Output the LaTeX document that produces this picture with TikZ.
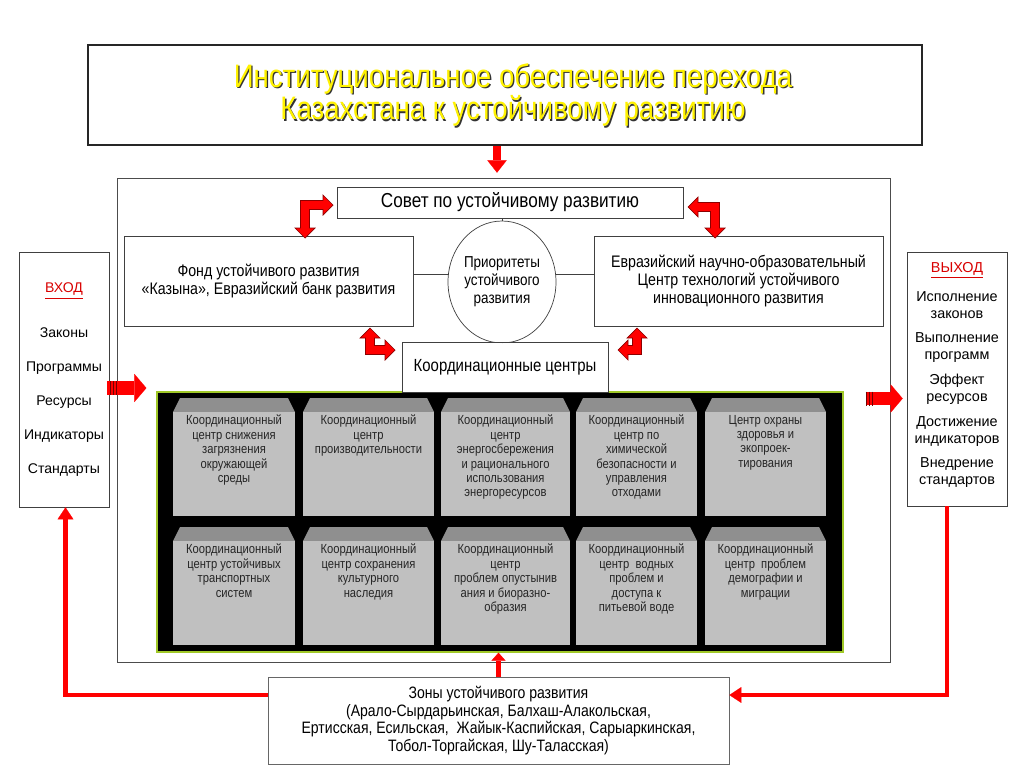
\documentclass[tikz,border=0pt]{standalone}
\usepackage{fontspec}
\setmainfont{Liberation Sans}
\newfontfamily\narrowsans{Liberation Sans}[FakeStretch=0.85]
\usetikzlibrary{positioning,shapes.geometric,arrows.meta,calc}

\definecolor{panelrim}{RGB}{160,200,40}
\definecolor{tiletopgray}{RGB}{143,143,143}
\definecolor{tilegray}{RGB}{192,192,192}

\newcommand{\px}{0.02cm}
% red double-headed bent arrow: corner, x sign, y sign, x arm, y arm
\newcommand{\bentarrow}[5]{%
  \begin{scope}[shift={#1},xscale=#2,yscale=#3]
    \filldraw[redblock] (-4.5,-4.5) -- ({#4-10},-4.5) -- ({#4-10},-10) -- (#4,0)
      -- ({#4-10},10) -- ({#4-10},4.5) -- (4.5,4.5) -- (4.5,{#5-10}) -- (10,{#5-10})
      -- (0,#5) -- (-10,{#5-10}) -- (-4.5,{#5-10}) -- cycle;
  \end{scope}}

\begin{document}
\begin{tikzpicture}[x=0.02cm,y=-0.02cm,
  box/.style={draw=black!75,fill=white,inner sep=2pt,align=center,
    font=\narrowsans\fontsize{9.5}{10.4}\selectfont},
  sidetext/.style={align=center,inner sep=0pt,font=\fontsize{8}{19.3}\selectfont},
  outtext/.style={align=center,inner sep=0pt,font=\fontsize{8.2}{9.6}\selectfont},
  tiletext/.style={anchor=north,align=center,inner sep=1pt,text=black!85,
    font=\narrowsans\fontsize{7.5}{8.2}\selectfont},
  tiletop/.style={fill=tiletopgray},
  tilebody/.style={fill=tilegray},
  redblock/.style={fill=red,draw=red!55!black,line width=0.4pt},
  link/.style={draw=black!75,line width=0.5pt},
  redline/.style={draw=red,line width=2.3pt,
    -{Triangle[width=9pt,length=6.8pt,line width=0.1pt]}},
  fatarrow/.style={draw=red,line width=5pt,
    -{Triangle[width=11pt,length=7pt,line width=0.1pt]}},
  midarrow/.style={draw=red,line width=3.4pt,
    -{Triangle[width=8pt,length=4.5pt,line width=0.1pt]}},
  widearrow/.style={draw=red,line width=7.9pt,
    -{Triangle[width=16pt,length=6.8pt,line width=0.1pt]}},
  stripe/.style={draw=red!45!black,line width=0.7pt}]

  \fill[white] (0,0) rectangle (1024,768);
  \useasboundingbox (0,0) rectangle (1024,768);

  % title
  \node[draw=black!85,line width=1.3pt,fill=white,minimum width=834*\px,
    minimum height=100*\px] (title) at (505,95) {};
  \node[align=center,text=black!80,font=\narrowsans\fontsize{18.5}{18.5}\selectfont]
    (titleshade) at (514.3,96.3) {Институциональное обеспечение перехода\\Казахстана к устойчивому развитию};
  \node[align=center,text=yellow,font=\narrowsans\fontsize{18.5}{18.5}\selectfont]
    (titletext) at (513,95) {Институциональное обеспечение перехода\\Казахстана к устойчивому развитию};

  % main frame and black panel
  \node[draw=black!70,minimum width=773*\px,minimum height=484*\px,inner sep=0pt]
    (frame) at (503.5,420) {};
  \node[fill=black,draw=panelrim,line width=0.8pt,minimum width=686*\px,
    minimum height=260*\px,inner sep=0pt] (panel) at (500,522) {};

  \node[box,minimum width=346*\px,minimum height=31*\px,
    font=\narrowsans\fontsize{11.5}{12}\selectfont] (sovet) at (510,202.5) {Совет по устойчивому развитию};
  \node[box,minimum width=289*\px,minimum height=90*\px] (fond) at (268.5,281)
    {Фонд устойчивого развития\\«Казына», Евразийский банк развития};
  \node[box,minimum width=289*\px,minimum height=90*\px] (evraz) at (738.5,281)
    {Евразийский научно-образовательный\\Центр технологий устойчивого\\инновационного развития};
  \node[box,ellipse,minimum width=108*\px,minimum height=122*\px,inner sep=0pt,
    font=\narrowsans\fontsize{9}{10.2}\selectfont] (prior) at (502,282) {Приоритеты\\устойчивого\\развития};
  \node[box,minimum width=206*\px,minimum height=50*\px,
    font=\narrowsans\fontsize{10}{11}\selectfont] (koord) at (505,367) {Координационные центры};

  \draw[link] (prior.north) -- (prior.north |- sovet.south);
  \draw[link] (prior.south) -- (prior.south |- koord.north);
  \draw[link] (prior.172) -- (prior.172 -| fond.east);
  \draw[link] (prior.8) -- (prior.8 -| evraz.west);

  % coordination centres
  \foreach \cx/\tw/\txt [count=\i] in {
    234/122/{Координационный\\центр снижения\\загрязнения\\окружающей\\среды},
    368.5/131/{Координационный\\центр\\производительности},
    505.5/129/{Координационный\\центр\\энергосбережения\\и рационального\\использования\\энергоресурсов},
    636.5/121/{Координационный\\центр по\\химической\\безопасности и\\управления\\отходами},
    765.5/121/{Центр охраны\\здоровья и\\экопроек-\\тирования}}
  {
    \fill[tiletop] ({\cx-\tw/2+7},398) -- ({\cx+\tw/2-7},398) -- ({\cx+\tw/2},412)
      -- ({\cx-\tw/2},412) -- cycle;
    \fill[tilebody] ({\cx-\tw/2},412) rectangle ({\cx+\tw/2},516);
    \node[tiletext] (ctra\i) at (\cx,413) {\txt};
  }
  \foreach \cx/\tw/\txt [count=\i] in {
    234/122/{Координационный\\центр устойчивых\\транспортных\\систем},
    368.5/131/{Координационный\\центр сохранения\\культурного\\наследия},
    505.5/129/{Координационный\\центр\\проблем опустынив\\ания и биоразно-\\образия},
    636.5/121/{Координационный\\центр~ водных\\проблем и\\доступа к\\питьевой воде},
    765.5/121/{Координационный\\центр~ проблем\\демографии и\\миграции}}
  {
    \fill[tiletop] ({\cx-\tw/2+7},527) -- ({\cx+\tw/2-7},527) -- ({\cx+\tw/2},541)
      -- ({\cx-\tw/2},541) -- cycle;
    \fill[tilebody] ({\cx-\tw/2},541) rectangle ({\cx+\tw/2},645);
    \node[tiletext] (ctrb\i) at (\cx,542) {\txt};
  }

  % input / output
  \node[draw=black!75,minimum width=90*\px,minimum height=255*\px] (vhod) at (64,379.5) {};
  \node[sidetext] (vhodtxt) at (vhod) {\textcolor{red!85!black}{\underline{ВХОД}}\\[6.2pt]
    Законы\\Программы\\Ресурсы\\Индикаторы\\Стандарты};
  \node[draw=black!75,minimum width=100*\px,minimum height=254*\px] (vyhod) at (957,379) {};
  \node[outtext] (vyhodtxt) at (957,375) {\textcolor{red!85!black}{\underline{ВЫХОД}}\\[6.8pt]
    Исполнение\\законов\\[4.5pt]Выполнение\\программ\\[4.5pt]Эффект\\ресурсов\\[4.5pt]
    Достижение\\индикаторов\\[4.5pt]Внедрение\\стандартов};

  % zones
  \node[box,draw=black!60,minimum width=461*\px,minimum height=87*\px,
    font=\narrowsans\fontsize{9.4}{10}\selectfont] (zony) at (498.5,720.5)
    {Зоны устойчивого развития\\(Арало-Сырдарьинская, Балхаш-Алакольская,\\
     Ертисская, Есильская,~ Жайык-Каспийская, Сарыаркинская,\\Тобол-Торгайская, Шу-Таласская)};

  % red arrows
  \draw[fatarrow] ([xshift=-8*\px]title.south) -- ([xshift=-8*\px,yshift=5*\px]title.south |- frame.north);
  \draw[midarrow] (zony.north) -- (zony.north |- panel.south);
  \coordinate (inL) at ([yshift=-8.5*\px]vhod.east);
  \draw[widearrow] ($(inL)+(-2,0)$) -- ($(inL)+(37,0)$);
  \foreach \dx in {1,4,7}
    \draw[stripe] ($(inL)+(\dx,-7)$) -- ++(0,14);
  \coordinate (outR) at ([yshift=-19.5*\px]vyhod.west);
  \draw[widearrow] ($(outR)+(-41,0)$) -- ($(outR)+(-4,0)$);
  \foreach \dx in {-40,-37,-34}
    \draw[stripe] ($(outR)+(\dx,-7)$) -- ++(0,14);
  \draw[redline] ([yshift=25.5*\px]zony.west) -| ([xshift=1.5*\px]vhod.south);
  \draw[redline] ([xshift=-10*\px]vyhod.south) |- ([yshift=25.5*\px]zony.east);

  \bentarrow{(305,205)}{1}{1}{28}{33}
  \bentarrow{(715,207)}{-1}{1}{27}{31}
  \bentarrow{(370,350)}{1}{-1}{25}{22}
  \bentarrow{(637,350)}{-1}{-1}{19}{22}
\end{tikzpicture}
\end{document}
